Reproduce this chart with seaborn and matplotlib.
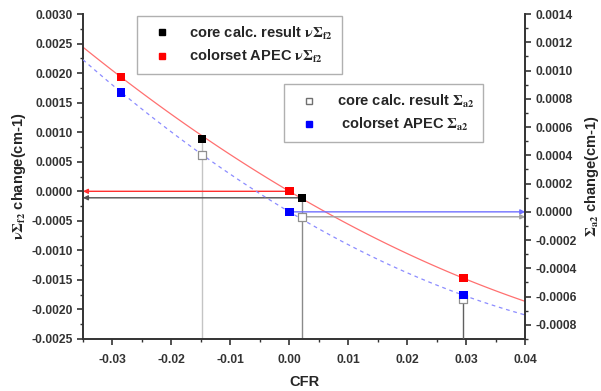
import numpy as np
import pandas as pd
import matplotlib
matplotlib.use("Agg")
import matplotlib.pyplot as plt
from matplotlib.lines import Line2D
from matplotlib.ticker import MultipleLocator
import seaborn as sns

# --- data ---
cfr_red = [-0.0285, 0.0, 0.0295]
nsf_red = [0.00193, 0.0, -0.00147]          # colorset APEC nuSigma_f2 (left axis)
cfr_black = [-0.0148, 0.0021]
nsf_black = [0.00089, -0.00011]             # core calc. nuSigma_f2 (left axis)
cfr_blue = [-0.0285, 0.0, 0.0295]
sa_blue = [0.000846, 0.0, -0.00059]         # colorset APEC Sigma_a2 (right axis)
cfr_white = [-0.0148, 0.0021, 0.0295]
sa_white = [0.00040, -0.000035, -0.00062]   # core calc. Sigma_a2 (right axis)

XLIM = (-0.035, 0.04)
YLIM_L = (-0.0025, 0.0030)
YLIM_R = (-0.0009, 0.0014)

sns.set_style("ticks")
plt.rcParams['font.family'] = ['Liberation Sans', 'DejaVu Sans']
plt.rcParams['mathtext.fontset'] = 'stix'
plt.rcParams['font.weight'] = 'bold'

fig = plt.figure(figsize=(6.01, 3.91), dpi=100)
ax = fig.add_axes([0.138, 0.133, 0.736, 0.831])
ax.set_xlim(*XLIM)
ax.set_ylim(*YLIM_L)
ax2 = ax.twinx()
ax2.set_ylim(*YLIM_R)

# fitted curves
sns.regplot(x=cfr_red, y=nsf_red, order=2, ci=None, scatter=False, truncate=False,
            ax=ax, line_kws=dict(color='#ff7070', lw=0.9))
sns.regplot(x=cfr_blue, y=sa_blue, order=2, ci=None, scatter=False, truncate=False,
            ax=ax2, line_kws=dict(color='#8c8cff', lw=0.9, ls=(0, (3, 3))))

# drop lines to the x axis
ax.vlines(cfr_black, YLIM_L[0], nsf_black, colors=['#c4c4c4', '#8a8a8a'], lw=1.0, zorder=1)
ax2.vlines(cfr_white[-1], YLIM_R[0], sa_white[-1], colors='#606060', lw=1.0, zorder=1)

# arrows to the y axes
def arrow(a, x0, y, x1, color):
    a.annotate('', xy=(x1, y), xytext=(x0, y),
               arrowprops=dict(arrowstyle='-|>', color=color, lw=1.0,
                               mutation_scale=7, shrinkA=0, shrinkB=0), zorder=2)

arrow(ax, cfr_red[1], nsf_red[1], XLIM[0], '#ff3030')
arrow(ax, cfr_black[1], nsf_black[1], XLIM[0], '#505050')
arrow(ax2, cfr_blue[1], sa_blue[1], XLIM[1], '#7070ff')
arrow(ax2, cfr_white[1], sa_white[1], XLIM[1], '#a0a0a0')

# points
sns.scatterplot(x=cfr_red, y=nsf_red, ax=ax, marker='s', s=36, color='#ff0000',
                edgecolor='none', zorder=5)
sns.scatterplot(x=cfr_black, y=nsf_black, ax=ax, marker='s', s=36, color='#000000',
                edgecolor='none', zorder=5)
sns.scatterplot(x=cfr_white, y=sa_white, ax=ax2, marker='s', s=30, color='white',
                edgecolor='#909090', linewidth=0.9, zorder=5)
sns.scatterplot(x=cfr_blue, y=sa_blue, ax=ax2, marker='s', s=36, color='#0000ff',
                edgecolor='none', zorder=5)

# axes styling
ax.xaxis.set_major_locator(MultipleLocator(0.01))
ax.xaxis.set_minor_locator(MultipleLocator(0.005))
ax.yaxis.set_major_locator(MultipleLocator(0.0005))
ax.yaxis.set_minor_locator(MultipleLocator(0.00025))
ax2.yaxis.set_major_locator(MultipleLocator(0.0002))
ax2.yaxis.set_minor_locator(MultipleLocator(0.0001))
ax.xaxis.set_major_formatter(lambda v, p: f"{v:.2f}")
ax.yaxis.set_major_formatter(lambda v, p: f"{v:.4f}")
ax2.yaxis.set_major_formatter(lambda v, p: f"{v:.4f}")

for a in (ax, ax2):
    a.spines['top'].set_visible(False)
    for s in ('left', 'bottom', 'right'):
        a.spines[s].set_linewidth(1.4)
        a.spines[s].set_color('#333333')
    a.tick_params(which='major', length=4, width=1.2, color='#333333',
                  labelsize=8.7, labelcolor='#333333')
    a.tick_params(which='minor', length=2.5, width=1.0, color='#333333')
ax.tick_params(axis='x', pad=7)
ax.spines['right'].set_visible(False)
ax2.spines['left'].set_visible(False)
ax2.spines['bottom'].set_visible(False)
for lab in ax.get_xticklabels() + ax.get_yticklabels() + ax2.get_yticklabels():
    lab.set_fontweight('bold')

ax.set_xlabel('CFR', fontsize=10.5, fontweight='bold', labelpad=6)
ax.set_ylabel(r'$\mathrm{\nu\Sigma}_{\mathrm{f2}}$ change(cm-1)', fontsize=10.5,
              fontweight='bold', labelpad=2)
ax2.set_ylabel(r'$\mathrm{\Sigma}_{\mathrm{a2}}$ change(cm-1)', fontsize=10.5,
               fontweight='bold', labelpad=4)

# legends
h1 = [Line2D([], [], ls='none', marker='s', ms=5, mfc='black', mec='black'),
      Line2D([], [], ls='none', marker='s', ms=5, mfc='red', mec='red')]
leg1 = ax.legend(h1, [r'core calc. result $\mathrm{\nu\Sigma}_{\mathrm{f2}}$',
                      r'colorset APEC $\mathrm{\nu\Sigma}_{\mathrm{f2}}$'],
                 loc='upper left', bbox_to_anchor=(0.122, 0.995), borderaxespad=0,
                 frameon=True, fancybox=False, edgecolor='#b0b0b0', framealpha=1,
                 prop=dict(size=10.5, weight='bold'), labelspacing=0.45, handletextpad=0.8,
                 borderpad=0.6, handlelength=2.2)
leg1.get_frame().set_linewidth(1.0)

h2 = [Line2D([], [], ls='none', marker='s', ms=5, mfc='white', mec='#707070'),
      Line2D([], [], ls='none', marker='s', ms=5, mfc='blue', mec='blue')]
leg2 = ax2.legend(h2, [r'core calc. result $\mathrm{\Sigma}_{\mathrm{a2}}$',
                       r' colorset APEC $\mathrm{\Sigma}_{\mathrm{a2}}$'],
                  loc='upper left', bbox_to_anchor=(0.455, 0.785), borderaxespad=0,
                  frameon=True, fancybox=False, edgecolor='#b0b0b0', framealpha=1,
                  prop=dict(size=10.5, weight='bold'), labelspacing=0.45, handletextpad=0.8,
                  borderpad=0.6, handlelength=2.2)
leg2.get_frame().set_linewidth(1.0)

fig.savefig('out.png', dpi=100)
